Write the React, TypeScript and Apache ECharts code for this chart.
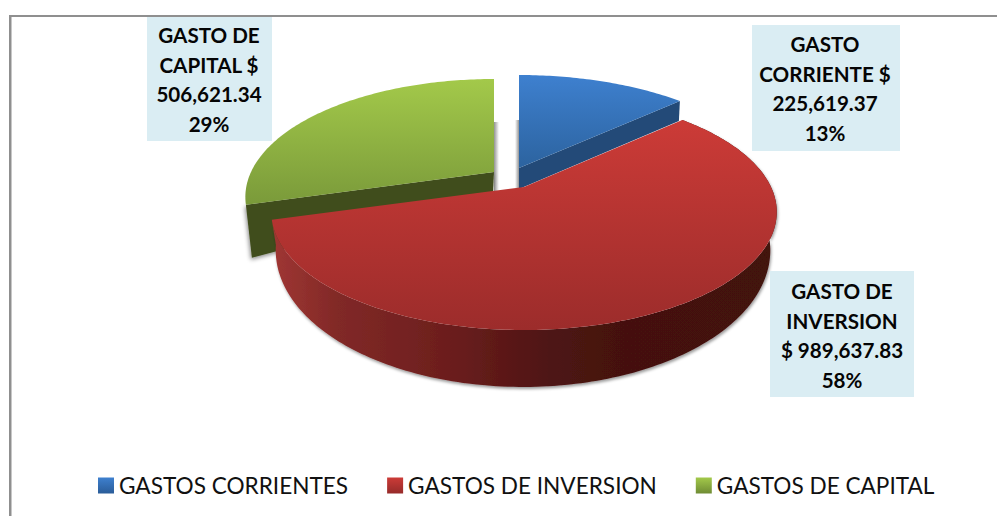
import React, { useEffect, useRef } from "react";
import * as echarts from "echarts";

const categories = ["GASTOS CORRIENTES", "GASTOS DE INVERSION", "GASTOS DE CAPITAL"];
const values = [225619.37, 989637.83, 506621.34];
const labelLines = [
  ["GASTO", "CORRIENTE $", "225,619.37", "13%"],
  ["GASTO DE", "INVERSION", "$ 989,637.83", "58%"],
  ["GASTO DE", "CAPITAL $", "506,621.34", "29%"],
];
const topColors = [
  ["#3e80cf", "#2c639f"],
  ["#cc3b37", "#9c2c2b"],
  ["#a3c94a", "#7a9a3a"],
];
const legendColors = [
  ["#3e80cf", "#2a5c98"],
  ["#cc3b37", "#962b2a"],
  ["#a3c94a", "#6f8c34"],
];
const sideColors = ["#234a78", "#431210", "#404d1b"];

const TOTAL = values.reduce((a, b) => a + b, 0);
const P = 0.212, A = 247, B = 112.7;
const P2 = 0.311, A2 = 235, B2 = 123.3;

const TAU = Math.PI * 2;
const top = (cx: number, cy: number, t: number, a = A) => {
  const s = 1 / (1 + P * Math.cos(t));
  return [cx + a * Math.sin(t) * s, cy - B * Math.cos(t) * s];
};
const bottom = (cx: number, cy: number, t: number) => {
  const s = 1 / (1 + P2 * Math.cos(t));
  return [cx + A2 * Math.sin(t) * s, cy - B2 * Math.cos(t) * s];
};
const arc = (f: (t: number) => number[], a: number, b: number) => {
  const out: number[][] = [];
  const n = Math.max(8, Math.ceil(Math.abs(b - a) * 60));
  for (let i = 0; i <= n; i++) out.push(f(a + ((b - a) * i) / n));
  return out;
};
const vGrad = (c: string[]) =>
  new echarts.graphic.LinearGradient(0, 0, 0, 1, [
    { offset: 0, color: c[0] },
    { offset: 1, color: c[1] },
  ]);
const hFade = (c0: string, c1: string) =>
  new echarts.graphic.LinearGradient(0, 0, 1, 0, [
    { offset: 0, color: c0 },
    { offset: 1, color: c1 },
  ]);
const SHADOW = { shadowBlur: 4, shadowOffsetX: 2, shadowOffsetY: 2, shadowColor: "rgba(0,0,0,0.45)" };

const sliceAngles = (i: number) => {
  let s = 0;
  for (let k = 0; k < i; k++) s += values[k];
  return [(s / TOTAL) * TAU, ((s + values[i]) / TOTAL) * TAU];
};

const labelBoxes = [
  { x: 752, y: 25, w: 148, h: 126, tx: 825, ty: 44 },
  { x: 770, y: 271, w: 144, h: 126, tx: 842, ty: 291 },
  { x: 147, y: 17, w: 125, h: 124, tx: 209, ty: 35 },
];

const labelEls = (i: number) => {
  const b = labelBoxes[i];
  return [
    { type: "rect", shape: { x: b.x, y: b.y, width: b.w, height: b.h }, style: { fill: "#daedf3" }, z2: 50 },
    ...labelLines[i].map((line, k) => ({
      type: "text",
      x: b.tx,
      y: b.ty + k * 29.6,
      z2: 51,
      style: {
        text: line,
        fill: "#050505",
        font: "bold 20.6px Lato",
        align: "center",
        verticalAlign: "middle",
      },
    })),
  ];
};

const renderBlue = (_: any, api: any) => {
  const [a, b] = sliceAngles(0);
  const c = [519, 168];
  const f = (t: number) => top(c[0], c[1], t, 251);
  const e = f(b);
  return {
    type: "group",
    children: [
      {
        type: "rect",
        shape: { x: c[0] - 4, y: c[1] - 48, width: 4, height: 70 },
        style: { fill: hFade("rgba(120,120,120,0)", "rgba(120,120,120,0.8)") },
      },
      {
        type: "polygon",
        shape: { points: [c, e, [e[0] - 1, e[1] + 20], [c[0], c[1] + 21]] },
        style: { fill: sideColors[0] },
      },
      {
        type: "polygon",
        shape: { points: [c, ...arc(f, a, b)] },
        style: { fill: vGrad(topColors[0]) },
      },
      ...labelEls(0),
    ],
  };
};

const renderGreen = (_: any, api: any) => {
  const [a, b] = sliceAngles(2);
  const c = [494, 172];
  const f = (t: number) => top(c[0], c[1], t, 243);
  const s = f(a);
  return {
    type: "group",
    children: [
      {
        type: "rect",
        shape: { x: c[0], y: c[1] - 50, width: 5, height: 72 },
        style: { fill: hFade("rgba(120,120,120,0.8)", "rgba(120,120,120,0)") },
      },
      {
        type: "polygon",
        shape: { points: [c, s, [s[0] + 6, s[1] + 53], [c[0] - 1, c[1] + 22]] },
        style: { fill: sideColors[2], ...SHADOW, shadowOffsetX: -1, shadowOffsetY: 2 },
      },
      {
        type: "polygon",
        shape: { points: [c, ...arc(f, a, b)] },
        style: { fill: vGrad(topColors[2]) },
      },
      ...labelEls(2),
    ],
  };
};

const renderRed = (_: any, api: any) => {
  const [a, b] = sliceAngles(1);
  const c = [524, 187];
  const bc = [523, 208];
  const f = (t: number) => top(c[0], c[1], t);
  const g = (t: number) => bottom(bc[0], bc[1], t);
  return {
    type: "group",
    children: [
      {
        type: "polygon",
        shape: { points: [...arc(f, a, b), ...arc(g, b, a)] },
        style: {
          fill: new echarts.graphic.LinearGradient(0, 0, 1, 0, [
            { offset: 0, color: "#a03633" },
            { offset: 0.13, color: "#812927" },
            { offset: 0.35, color: "#6c1e1d" },
            { offset: 0.55, color: "#4e1413" },
            { offset: 0.7, color: "#44110f" },
            { offset: 1, color: sideColors[1] },
          ]),
          ...SHADOW,
          shadowBlur: 3,
          shadowOffsetX: 1,
          shadowColor: "rgba(0,0,0,0.4)",
        },
      },
      {
        type: "polygon",
        shape: { points: [c, ...arc(f, a, b)] },
        style: { fill: vGrad(topColors[1]) },
      },
      ...labelEls(1),
    ],
  };
};

const renderers = [renderBlue, renderRed, renderGreen];
const order = [2, 3, 1];

export default function App() {
  const ref = useRef<HTMLDivElement>(null);
  useEffect(() => {
    const chart = echarts.init(ref.current!, null, { renderer: "svg" });
    chart.setOption({
      animation: false,
      backgroundColor: "#ffffff",
      legend: {
        left: 93,
        top: 469,
        data: categories,
        icon: "rect",
        itemWidth: 16,
        itemHeight: 16,
        itemGap: 39,
        selectedMode: false,
        textStyle: { fontFamily: "Lato", fontSize: 22.6, color: "#111" },
      },
      graphic: [
        { type: "rect", shape: { x: 9, y: 15, width: 988, height: 2 }, style: { fill: "#8f8f8f" }, z: 0 },
        { type: "rect", shape: { x: 9, y: 15, width: 2.5, height: 501 }, style: { fill: "#8f8f8f" }, z: 0 },
      ],
      series: categories.map((name, i) => ({
        type: "custom",
        name,
        coordinateSystem: "none",
        z: order[i],
        silent: true,
        itemStyle: { color: vGrad(legendColors[i]) },
        data: [[values[i]]],
        renderItem: renderers[i],
      })),
    });
    return () => chart.dispose();
  }, []);
  return <div ref={ref} style={{ position: "absolute", left: 0, top: 0, width: 997, height: 516 }} />;
}
